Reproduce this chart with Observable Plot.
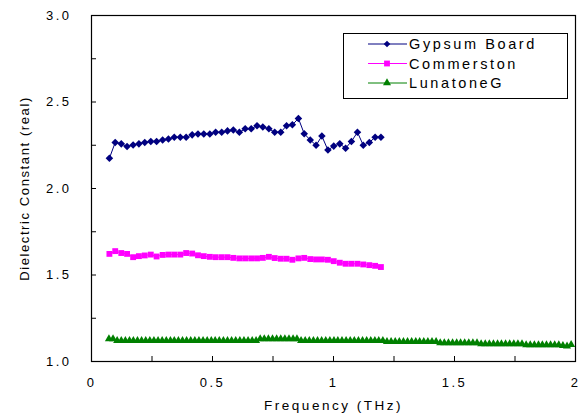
<!DOCTYPE html>
<html><head><meta charset="utf-8">
<script src="https://cdn.jsdelivr.net/npm/d3@7"></script>
<script src="https://cdn.jsdelivr.net/npm/@observablehq/plot@0.6"></script>
<style>
body{margin:0;background:#fff;}
#wrap{position:relative;width:580px;height:416px;}
#legend{position:absolute;left:0;top:0;pointer-events:none;}
</style></head><body><div id="wrap"></div>
<script>
const seriesNames = ["Gypsum Board", "Commerston", "LunatoneG"];
const seriesColors = ["#000080", "#FF00FF", "#008000"];
const seriesSymbols = ["diamond2", "square", "triangle"];

const freqGC = [0.074,0.098,0.123,0.147,0.172,0.196,0.220,0.245,0.269,0.294,
  0.318,0.342,0.367,0.391,0.416,0.440,0.464,0.489,0.513,0.538,
  0.562,0.586,0.611,0.635,0.660,0.684,0.708,0.733,0.757,0.782,
  0.806,0.830,0.855,0.879,0.904,0.928,0.952,0.977,1.001,1.026,
  1.050,1.074,1.099,1.123,1.148,1.172,1.196];
const gypsum = [2.175,2.266,2.258,2.243,2.252,2.258,2.266,2.272,2.272,2.280,
  2.286,2.296,2.296,2.296,2.310,2.315,2.315,2.315,2.325,2.325,
  2.333,2.338,2.325,2.345,2.345,2.363,2.355,2.345,2.325,2.325,
  2.363,2.368,2.405,2.317,2.280,2.250,2.303,2.222,2.245,2.258,
  2.233,2.272,2.325,2.250,2.266,2.296,2.296];
const commerston = [1.622,1.638,1.627,1.622,1.603,1.609,1.613,1.618,1.607,1.616,
  1.618,1.618,1.618,1.627,1.624,1.614,1.609,1.605,1.603,1.603,
  1.603,1.599,1.596,1.596,1.596,1.596,1.599,1.605,1.598,1.594,
  1.594,1.588,1.596,1.599,1.592,1.590,1.590,1.588,1.580,1.571,
  1.565,1.565,1.565,1.561,1.557,1.553,1.546];
const freqL = [0.072,0.089,0.106,0.123,0.140,0.157,0.173,0.190,0.207,0.224,
  0.241,0.258,0.275,0.292,0.309,0.326,0.342,0.359,0.376,0.393,
  0.410,0.427,0.444,0.461,0.478,0.495,0.511,0.528,0.545,0.562,
  0.579,0.596,0.613,0.630,0.647,0.664,0.680,0.697,0.714,0.731,
  0.748,0.765,0.782,0.799,0.816,0.833,0.849,0.866,0.883,0.900,
  0.917,0.934,0.951,0.968,0.985,1.002,1.018,1.035,1.052,1.069,
  1.086,1.103,1.120,1.137,1.154,1.171,1.187,1.204,1.221,1.238,
  1.255,1.272,1.289,1.306,1.323,1.340,1.356,1.373,1.390,1.407,
  1.424,1.441,1.458,1.475,1.492,1.509,1.525,1.542,1.559,1.576,
  1.593,1.610,1.627,1.644,1.661,1.678,1.694,1.711,1.728,1.745,
  1.762,1.779,1.796,1.813,1.830,1.847,1.863,1.880,1.897,1.914,
  1.931,1.948,1.965,1.982];
const lunatone = [1.13,1.13,1.12,1.12,1.12,1.12,1.12,1.12,1.12,1.12,
  1.12,1.12,1.12,1.12,1.12,1.12,1.12,1.12,1.12,1.12,
  1.12,1.12,1.12,1.12,1.12,1.12,1.12,1.12,1.12,1.12,
  1.12,1.12,1.12,1.12,1.12,1.12,1.12,1.13,1.13,1.13,
  1.13,1.13,1.13,1.13,1.13,1.13,1.13,1.12,1.12,1.12,
  1.12,1.12,1.12,1.12,1.12,1.12,1.12,1.12,1.12,1.12,
  1.12,1.12,1.12,1.12,1.12,1.12,1.12,1.12,1.115,1.115,
  1.115,1.115,1.115,1.115,1.115,1.115,1.115,1.115,1.115,1.115,
  1.115,1.108,1.108,1.108,1.108,1.108,1.108,1.108,1.108,1.108,
  1.108,1.102,1.102,1.102,1.102,1.102,1.102,1.102,1.102,1.102,
  1.102,1.102,1.096,1.096,1.096,1.096,1.096,1.096,1.096,1.096,
  1.096,1.092,1.088,1.098];

const xTickMinor = [0,0.25,0.5,0.75,1,1.25,1.5,1.75,2];
const xTickLabels = [0,0.5,1,1.5,2];
const yTickMinor = [1,1.25,1.5,1.75,2,2.25,2.5,2.75,3];
const yTickLabels = [1,1.5,2,2.5,3];
const xTitle = "Frequency (THz)";
const yTitle = "Dielectric Constant (real)";

const sets = [
  {name: seriesNames[0], f: freqGC, v: gypsum, r: 3.4},
  {name: seriesNames[1], f: freqGC, v: commerston, r: 3.3},
  {name: seriesNames[2], f: freqL, v: lunatone, r: 3.0}
];
const rows = [];
sets.forEach(s => s.f.forEach((f, i) => rows.push({series: s.name, f, v: s.v[i]})));

const font = "Arial, 'Liberation Sans', sans-serif";
const chart = Plot.plot({
  width: 580, height: 416,
  marginLeft: 91, marginRight: 5, marginTop: 15, marginBottom: 55,
  style: {fontFamily: font, fontSize: "13px", letterSpacing: "2.5px", background: "white", color: "black", overflow: "visible"},
  x: {domain: [0, 2]},
  y: {domain: [1, 3]},
  color: {domain: seriesNames, range: seriesColors},
  symbol: {domain: seriesNames, range: seriesSymbols},
  marks: [
    Plot.axisX({ticks: xTickMinor, tickSize: 5, dy: -5, tickFormat: () => "", label: null}),
    Plot.axisX({ticks: xTickLabels, tickSize: 0, tickPadding: 16, tickFormat: d => String(d), label: null}),
    Plot.axisY({ticks: yTickMinor, tickSize: 5, dx: 5, tickFormat: () => "", label: null}),
    Plot.axisY({ticks: yTickLabels, tickSize: 0, tickPadding: 20, tickFormat: d3.format(".1f"), label: null}),
    Plot.frame({stroke: "black", strokeWidth: 1.2}),
    Plot.line(rows, {x: "f", y: "v", z: "series", stroke: "series", strokeWidth: 1}),
    ...sets.map(s => Plot.dot(rows.filter(d => d.series === s.name), {x: "f", y: "v", symbol: "series", fill: "series", stroke: "none", r: s.r})),
    Plot.text([xTitle], {frameAnchor: "bottom", dy: 48, lineAnchor: "bottom", textAnchor: "middle", text: d => d, fontSize: 13.5}),
    Plot.text([yTitle], {frameAnchor: "left", dx: -63, rotate: -90, lineAnchor: "bottom", textAnchor: "middle", text: d => d, fontSize: 13})
  ]
});
document.getElementById("wrap").appendChild(chart);
d3.select(chart).selectAll("text").filter(function() { return this.textContent === yTitle; })
  .attr("letter-spacing", "1.6px");

// legend overlay
const lg = d3.select("#wrap").append("svg").attr("id", "legend").attr("width", 580).attr("height", 416);
lg.append("rect").attr("x", 343.5).attr("y", 33.5).attr("width", 224).attr("height", 65)
  .attr("fill", "white").attr("stroke", "black").attr("stroke-width", 1);
const rowY = [44, 63.5, 83];
seriesNames.forEach((n, i) => {
  const g = lg.append("g");
  g.append("line").attr("x1", 368).attr("x2", 407).attr("y1", rowY[i]).attr("y2", rowY[i])
    .attr("stroke", seriesColors[i]).attr("stroke-width", 1);
  const sym = d3.symbol(i === 0 ? d3.symbolDiamond2 : i === 1 ? d3.symbolSquare : d3.symbolTriangle, i === 1 ? 34 : 28);
  g.append("path").attr("d", sym()).attr("transform", `translate(387,${rowY[i]})`).attr("fill", seriesColors[i]);
  g.append("text").attr("x", 409).attr("y", rowY[i]).attr("dy", "0.35em").text(n)
    .attr("font-family", font).attr("font-size", 14.5).attr("letter-spacing", "2.6px").attr("fill", "black");
});
</script></body></html>
